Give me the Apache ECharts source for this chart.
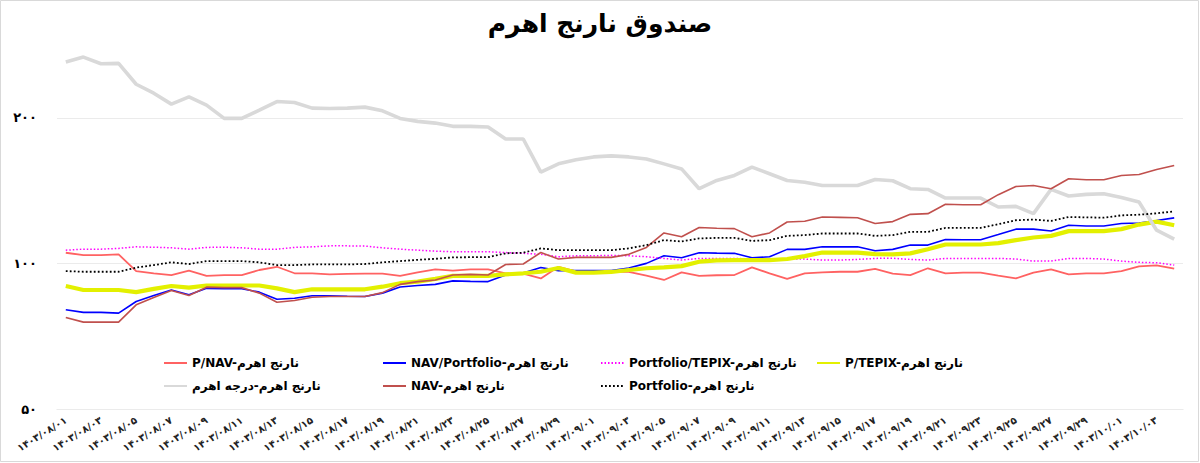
<!DOCTYPE html>
<html>
<head>
<meta charset="utf-8">
<script src="https://cdn.jsdelivr.net/npm/echarts@6/dist/echarts.min.js"></script>
<style>
html,body{margin:0;padding:0;background:#fff;}
#chart{width:1200px;height:463px;}
</style>
</head>
<body>
<div id="chart"></div>
<script>
const categories = [
'۱۴۰۳/۰۸/۰۱','۱۴۰۳/۰۸/۰۲','۱۴۰۳/۰۸/۰۳','۱۴۰۳/۰۸/۰۴','۱۴۰۳/۰۸/۰۵','۱۴۰۳/۰۸/۰۶','۱۴۰۳/۰۸/۰۷','۱۴۰۳/۰۸/۰۸','۱۴۰۳/۰۸/۰۹','۱۴۰۳/۰۸/۱۰',
'۱۴۰۳/۰۸/۱۱','۱۴۰۳/۰۸/۱۲','۱۴۰۳/۰۸/۱۳','۱۴۰۳/۰۸/۱۴','۱۴۰۳/۰۸/۱۵','۱۴۰۳/۰۸/۱۶','۱۴۰۳/۰۸/۱۷','۱۴۰۳/۰۸/۱۸','۱۴۰۳/۰۸/۱۹','۱۴۰۳/۰۸/۲۰',
'۱۴۰۳/۰۸/۲۱','۱۴۰۳/۰۸/۲۲','۱۴۰۳/۰۸/۲۳','۱۴۰۳/۰۸/۲۴','۱۴۰۳/۰۸/۲۵','۱۴۰۳/۰۸/۲۶','۱۴۰۳/۰۸/۲۷','۱۴۰۳/۰۸/۲۸','۱۴۰۳/۰۸/۲۹','۱۴۰۳/۰۸/۳۰',
'۱۴۰۳/۰۹/۰۱','۱۴۰۳/۰۹/۰۲','۱۴۰۳/۰۹/۰۳','۱۴۰۳/۰۹/۰۴','۱۴۰۳/۰۹/۰۵','۱۴۰۳/۰۹/۰۶','۱۴۰۳/۰۹/۰۷','۱۴۰۳/۰۹/۰۸','۱۴۰۳/۰۹/۰۹','۱۴۰۳/۰۹/۱۰',
'۱۴۰۳/۰۹/۱۱','۱۴۰۳/۰۹/۱۲','۱۴۰۳/۰۹/۱۳','۱۴۰۳/۰۹/۱۴','۱۴۰۳/۰۹/۱۵','۱۴۰۳/۰۹/۱۶','۱۴۰۳/۰۹/۱۷','۱۴۰۳/۰۹/۱۸','۱۴۰۳/۰۹/۱۹','۱۴۰۳/۰۹/۲۰',
'۱۴۰۳/۰۹/۲۱','۱۴۰۳/۰۹/۲۲','۱۴۰۳/۰۹/۲۳','۱۴۰۳/۰۹/۲۴','۱۴۰۳/۰۹/۲۵','۱۴۰۳/۰۹/۲۶','۱۴۰۳/۰۹/۲۷','۱۴۰۳/۰۹/۲۸','۱۴۰۳/۰۹/۲۹','۱۴۰۳/۰۹/۳۰',
'۱۴۰۳/۱۰/۰۱','۱۴۰۳/۱۰/۰۲','۱۴۰۳/۱۰/۰۳','۱۴۰۳/۱۰/۰۴'
];

// P/NAV
const pNav = [105.2,104.0,104.0,104.4,96.4,95.4,94.6,96.6,94.2,94.6,94.6,96.9,98.4,95.4,95.4,94.9,95.1,95.2,95.2,94.2,95.8,97.2,96.6,97.2,97.2,95.4,95.2,93.1,98.4,96.3,96.1,96.1,96.0,94.3,92.4,95.8,94.2,94.5,94.6,98.1,95.4,92.9,95.4,95.8,96.1,96.1,97.4,95.2,94.6,97.7,95.4,95.7,95.7,94.3,93.1,95.7,97.2,94.9,95.4,95.4,96.4,98.6,99.1,97.5];
// NAV/Portfolio
const navPortfolio = [80.2,79.2,79.2,78.9,83.4,85.8,88.1,86.1,88.8,88.6,88.6,87.2,84.3,84.7,85.7,85.7,85.5,85.4,86.8,89.4,90.0,90.5,92.0,91.8,91.7,94.6,95.5,98.1,96.6,96.6,96.6,96.7,97.8,100.0,103.7,102.7,105.2,105.0,104.9,102.7,103.2,106.9,106.9,108.2,108.2,108.2,106.2,106.9,109.1,109.1,112.0,111.9,111.9,114.7,117.7,117.7,116.7,119.9,119.5,119.5,120.9,121.2,122.6,124.2];
// Portfolio/TEPIX
const portfolioTepix = [106.5,107.0,107.0,107.4,108.2,108.0,107.7,107.0,107.9,108.0,107.7,107.0,107.0,107.9,108.2,108.7,108.7,108.6,107.7,107.0,106.5,106.0,105.7,105.7,105.7,105.3,104.9,104.4,103.2,103.7,103.7,103.9,103.7,103.2,102.4,101.6,102.4,102.4,102.4,102.1,102.2,102.1,102.1,101.6,101.6,101.9,102.4,102.5,101.9,101.6,102.4,102.4,102.4,102.4,102.1,101.1,101.1,102.4,102.4,102.1,101.1,100.5,100.3,99.2];
// P/TEPIX
const pTepix = [89.8,88.1,88.1,88.1,87.2,88.6,89.8,89.1,90.0,90.0,90.0,90.0,88.8,87.2,88.4,88.4,88.4,88.4,89.5,91.0,91.7,92.9,94.2,94.2,94.2,94.9,95.4,96.1,97.8,95.7,95.7,96.0,96.9,97.7,98.1,98.7,100.8,101.4,101.6,101.6,101.6,102.1,103.5,105.3,105.3,105.3,104.5,104.4,104.9,107.0,109.4,109.4,109.4,110.1,111.7,113.1,114.0,116.6,116.6,116.6,117.7,120.3,122.0,119.9];
// Leverage (درجه اهرم)
const leverage = [260.8,267.0,258.7,259.1,234.6,224.8,213.4,220.9,212.4,199.4,199.4,207.4,216.1,215.1,209.4,209.0,209.4,210.4,206.7,199.4,196.6,195.0,192.0,192.0,191.4,180.8,180.8,154.4,160.6,163.7,166.0,166.8,166.0,164.4,160.6,156.8,142.7,148.4,152.0,158.1,153.2,148.4,147.2,144.9,144.9,144.9,149.1,148.2,142.7,142.2,136.5,136.5,136.5,130.8,131.2,126.7,142.2,137.8,138.9,139.3,136.9,133.9,117.1,112.2];
// NAV
const nav = [77.3,75.6,75.6,75.6,82.1,85.0,87.9,85.8,89.3,89.1,89.1,86.8,83.1,83.8,85.1,85.4,85.4,85.4,87.0,90.5,91.7,92.4,94.6,94.9,94.6,99.5,99.7,105.3,102.1,102.9,102.9,102.9,104.4,107.9,115.6,113.5,118.6,118.2,118.0,113.5,115.6,121.8,122.2,124.7,124.5,124.3,120.9,122.0,126.3,126.7,132.5,132.2,132.2,138.7,144.2,144.9,142.7,149.6,148.9,148.9,152.0,152.7,156.3,159.3];
// Portfolio
const portfolio = [96.4,96.1,96.1,96.1,98.0,99.2,100.5,99.7,101.1,101.1,101.1,100.5,99.2,99.2,99.5,99.5,99.5,99.7,100.5,101.1,101.7,102.2,102.9,103.0,103.0,104.9,105.2,107.4,106.5,106.5,106.5,106.5,107.4,109.1,111.7,111.0,112.6,112.9,112.9,111.3,111.7,114.0,114.4,115.3,115.3,115.3,114.0,114.4,116.2,116.2,118.4,118.4,118.4,120.5,122.8,123.2,122.4,124.7,124.5,124.3,125.7,126.1,126.9,128.1];

const yTickValues = [50, 100, 200];
const yTickLabels = ['۵۰', '۱۰۰', '۲۰۰'];
const titleText = 'صندوق نارنج اهرم';

const FONT = 'DejaVu Sans';

const seriesDefs = [
  {name:'P/NAV-نارنج اهرم', data:pNav, color:'#ff6262', width:1.8, dash:'solid'},
  {name:'NAV/Portfolio-نارنج اهرم', data:navPortfolio, color:'#0000ff', width:1.6, dash:'solid'},
  {name:'Portfolio/TEPIX-نارنج اهرم', data:portfolioTepix, color:'#ff00ff', width:1.5, dash:[1.5,2]},
  {name:'P/TEPIX-نارنج اهرم', data:pTepix, color:'#e3f000', width:4.2, dash:'solid'},
  {name:'نارنج اهرم-درجه اهرم', data:leverage, color:'#d9d9d9', width:3.6, dash:'solid'},
  {name:'NAV-نارنج اهرم', data:nav, color:'#c0504d', width:1.6, dash:'solid'},
  {name:'Portfolio-نارنج اهرم', data:portfolio, color:'#000000', width:1.8, dash:[1.8,2.2]}
];

const legendCols = [158, 377, 595, 811];
const legendRows = [352, 375];

const series = seriesDefs.map((s, i) => {
  const o = {
    name: s.name,
    type: 'line',
    data: s.data,
    symbol: 'none',
    z: 3,
    lineStyle: {color: s.color, width: s.width, type: s.dash},
    itemStyle: {color: s.color},
    emphasis: {disabled: true}
  };
  if (i === 0) {
    o.markLine = {
      silent: true,
      symbol: ['none','none'],
      z: 1,
      lineStyle: {color:'#ebebeb', width:1, type:'solid'},
      label: {position:'start', distance:20, formatter:'{b}', color:'#000', fontSize:13, fontWeight:'bold', fontFamily:FONT},
      emphasis: {disabled: true},
      animation: false,
      data: yTickValues.map((v, k) => ({yAxis: v, name: yTickLabels[k]}))
    };
  }
  return o;
});

const legends = seriesDefs.map((s, i) => ({
  data: [s.name],
  left: legendCols[i % 4],
  top: legendRows[Math.floor(i / 4)],
  itemWidth: 23,
  itemHeight: 12,
  selectedMode: false,
  itemStyle: {opacity: 0},
  textStyle: {fontSize: 12, fontWeight: 'bold', color: '#000', fontFamily: FONT}
}));

const chart = echarts.init(document.getElementById('chart'), null, {renderer: 'svg'});
chart.setOption({
  animation: false,
  backgroundColor: '#ffffff',
  title: {
    text: titleText, left: 'center', top: 6,
    textStyle: {fontSize: 25, fontWeight: 'bold', color: '#000', fontFamily: FONT}
  },
  legend: legends,
  grid: {left: 57, right: 17, top: 45, bottom: 54, containLabel: false},
  xAxis: {
    type: 'category',
    data: categories,
    boundaryGap: true,
    axisLine: {show: true, lineStyle: {color: '#e6e6e6', width: 1}},
    axisTick: {show: false},
    axisLabel: {interval: 1, rotate: 32, margin: 10, fontSize: 10, fontWeight: 'bold', color: '#222', fontFamily: FONT},
    splitLine: {show: false}
  },
  yAxis: {
    type: 'log',
    logBase: 2,
    min: 50,
    max: 282.8,
    axisLine: {show: false},
    axisTick: {show: false},
    axisLabel: {show: false},
    splitLine: {show: false}
  },
  graphic: [{
    type: 'rect', silent: true, z: -1,
    shape: {x: 0.5, y: 0.5, width: 1198, height: 461},
    style: {fill: null, stroke: '#d9d9d9', lineWidth: 1}
  }],
  series: series
});
</script>
</body>
</html>
